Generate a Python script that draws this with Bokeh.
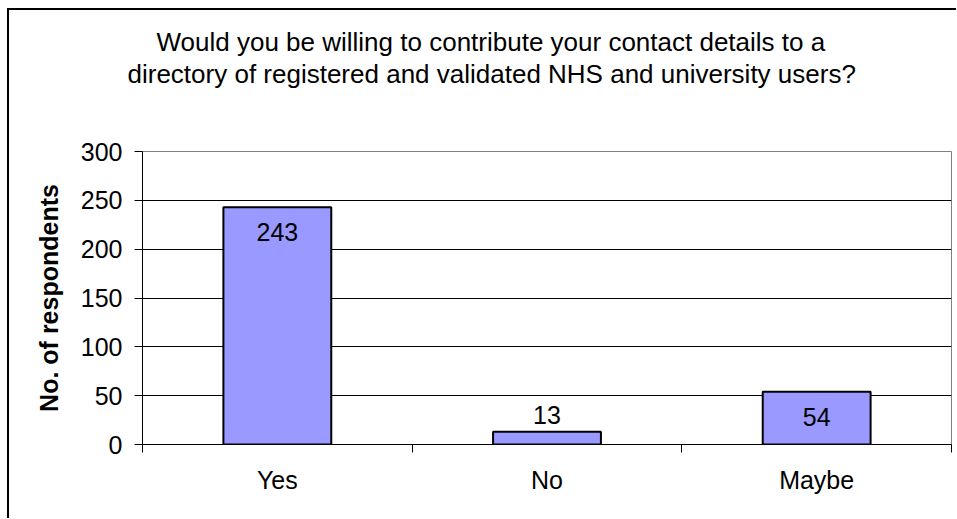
from bokeh.plotting import figure
from bokeh.models import Range1d, FixedTicker, Title, ColumnDataSource
from bokeh.embed import file_html
from bokeh.resources import INLINE
from bokeh.core.properties import value

categories = ["Yes", "No", "Maybe"]
counts = [243, 13, 54]
y_ticks = [0, 50, 100, 150, 200, 250, 300]
title_lines = [
    "Would you be willing to contribute your contact details to a",
    "directory of registered and validated NHS and university users?",
]
y_label = "No. of respondents"

FONT = "Liberation Sans"
W, H = 956, 518

xs = [i + 0.5 for i in range(len(categories))]
labels = [str(c) for c in counts]
offsets = [25 if c > 30 else -17 for c in counts]
src = ColumnDataSource(dict(x=xs, count=counts, label=labels, off=offsets))

p = figure(width=W, height=H, output_backend="svg", toolbar_location=None,
           x_range=Range1d(0, len(categories)), y_range=Range1d(0, y_ticks[-1]),
           min_border_left=142, min_border_right=5, min_border_top=151,
           min_border_bottom=74)
# outer chart-area frame (top and left edges visible, as in the reference)
p.styles = {
    "background": ("linear-gradient(black, black) 7px 8px / 2px 100% no-repeat, "
                   "linear-gradient(black, black) 7px 8px / 100% 2px no-repeat, white"),
}
p.border_fill_alpha = 0
p.outline_line_color = "#808080"
p.outline_line_width = 1
p.background_fill_color = "white"

p.vbar(x="x", top="count", bottom=0, width=0.4, source=src,
       fill_color="#9999FF", line_color="black", line_width=2)
p.text(x="x", y="count", text="label", y_offset="off", source=src,
       text_align="center", text_baseline="middle", text_color="black",
       text_font=value(FONT), text_font_size="25px")

# grid
p.xgrid.visible = False
p.ygrid.ticker = FixedTicker(ticks=y_ticks[1:-1])
p.ygrid.grid_line_color = "black"
p.ygrid.grid_line_width = 1

# y axis
ya = p.yaxis[0]
ya.ticker = FixedTicker(ticks=y_ticks)
ya.axis_line_color = "black"
ya.major_tick_out = 8
ya.major_tick_in = 0
ya.minor_tick_out = 0
ya.minor_tick_in = 0
ya.major_tick_line_color = "black"
ya.major_label_text_font = FONT
ya.major_label_text_font_size = "25px"
ya.major_label_text_color = "black"
ya.major_label_standoff = 12
ya.axis_label = y_label
ya.axis_label_text_font = FONT
ya.axis_label_text_font_size = "25px"
ya.axis_label_text_font_style = "bold"
ya.axis_label_text_color = "black"
ya.axis_label_standoff = 15

# x axis
xa = p.xaxis[0]
xa.ticker = FixedTicker(ticks=xs, minor_ticks=list(range(len(categories) + 1)))
xa.major_label_overrides = {float(x): c for x, c in zip(xs, categories)}
xa.axis_line_color = "black"
xa.major_tick_out = 0
xa.major_tick_in = 0
xa.minor_tick_out = 8
xa.minor_tick_in = 0
xa.minor_tick_line_color = "black"
xa.major_label_text_font = FONT
xa.major_label_text_font_size = "25px"
xa.major_label_text_color = "black"
xa.major_label_standoff = 13

# title: spacer nearest the frame, then the two lines (stacked outward)
p.add_layout(Title(text=" ", text_font=FONT, text_font_size="25px",
                   standoff=33), "above")
for line, off in zip(reversed(title_lines), [-15, 14]):
    p.add_layout(Title(text=line, align="left", offset=off,
                       vertical_align="bottom", standoff=0,
                       text_font=FONT, text_font_size="26px",
                       text_font_style="normal", text_color="black"), "above")

open("out.html", "w").write(file_html(p, INLINE))
